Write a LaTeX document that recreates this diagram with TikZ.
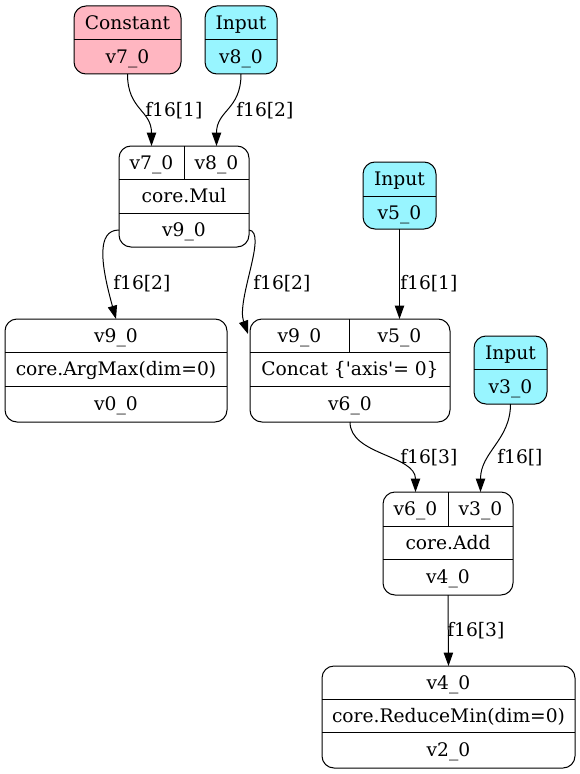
\documentclass[tikz,border=0pt]{standalone}
\usepackage{fontspec}
\setmainfont{DejaVu Serif}
\usetikzlibrary{arrows.meta}
\definecolor{constfill}{HTML}{FFB6C1}
\definecolor{inputfill}{HTML}{98F5FF}
\begin{document}
\begin{tikzpicture}[x=0.75pt,y=-0.75pt,
  box/.style={draw, line width=0.75pt, rounded corners=9pt, inner sep=0pt, outer sep=0pt},
  bw/.style={minimum width=#1*0.75pt},
  bh/.style={minimum height=#1*0.75pt},
  rule/.style={line width=0.75pt},
  txt/.style={inner sep=0pt, text height=10.2pt, text depth=0pt, font=\fontsize{14pt}{16pt}\selectfont},
  lbl/.style={txt, anchor=west},
  edge/.style={line width=0.75pt, -{Triangle[length=10pt,width=7pt]}}]
\useasboundingbox (0,0) rectangle (580,774);
\fill[white] (0,0) rectangle (580,774);

% Constant v7_0
\node[box, fill=constfill, bw=107, bh=68] (const) at (127.5,40) {};
\draw[rule] (const.west |- 0,40) -- (const.east |- 0,40);
\node[txt] (constname) at (127.5,23) {Constant};
\node[txt] (constout) at (127.5,57) {v7\_0};

% Input v8_0
\node[box, fill=inputfill, bw=72, bh=68] (inA) at (241,40) {};
\draw[rule] (inA.west |- 0,40) -- (inA.east |- 0,40);
\node[txt] (inAname) at (241,23) {Input};
\node[txt] (inAout) at (241,57) {v8\_0};

% core.Mul
\node[box, bw=130, bh=101] (mul) at (184,196.5) {};
\draw[rule] (mul.west |- 0,179) -- (mul.east |- 0,179);
\draw[rule] (mul.west |- 0,213) -- (mul.east |- 0,213);
\draw[rule] (mul.north) -- (184,179);
\node[txt] (mulin1) at (151.5,162.5) {v7\_0};
\node[txt] (mulin2) at (216.5,162.5) {v8\_0};
\node[txt] (mulop) at (184,196) {core.Mul};
\node[txt] (mulout) at (184,230) {v9\_0};

% Input v5_0
\node[box, fill=inputfill, bw=73, bh=67] (inB) at (399.5,195.5) {};
\draw[rule] (inB.west |- 0,196) -- (inB.east |- 0,196);
\node[txt] (inBname) at (399.5,179) {Input};
\node[txt] (inBout) at (399.5,212.5) {v5\_0};

% core.ArgMax
\node[box, bw=222, bh=103] (arg) at (116,370.5) {};
\draw[rule] (arg.west |- 0,352) -- (arg.east |- 0,352);
\draw[rule] (arg.west |- 0,386) -- (arg.east |- 0,386);
\node[txt] (argin) at (116,335.5) {v9\_0};
\node[txt] (argop) at (116,369) {core.ArgMax(dim=0)};
\node[txt] (argout) at (116,404) {v0\_0};

% Concat
\node[box, bw=200, bh=103] (cat) at (350,370.5) {};
\draw[rule] (cat.west |- 0,352) -- (cat.east |- 0,352);
\draw[rule] (cat.west |- 0,386) -- (cat.east |- 0,386);
\draw[rule] (349,319) -- (349,352);
\node[txt] (catin1) at (299.5,335.5) {v9\_0};
\node[txt] (catin2) at (399.5,335.5) {v5\_0};
\node[txt] (catop) at (350,369) {Concat \{\textquotesingle axis\textquotesingle = 0\}};
\node[txt] (catout) at (350,404) {v6\_0};

% Input v3_0
\node[box, fill=inputfill, bw=73, bh=68] (inC) at (510.5,370) {};
\draw[rule] (inC.west |- 0,369) -- (inC.east |- 0,369);
\node[txt] (inCname) at (510.5,352.5) {Input};
\node[txt] (inCout) at (510.5,386.5) {v3\_0};

% core.Add
\node[box, bw=130, bh=103] (add) at (448,543.5) {};
\draw[rule] (add.west |- 0,526) -- (add.east |- 0,526);
\draw[rule] (add.west |- 0,559) -- (add.east |- 0,559);
\draw[rule] (add.north) -- (448,526);
\node[txt] (addin1) at (415.5,509) {v6\_0};
\node[txt] (addin2) at (480.5,509) {v3\_0};
\node[txt] (addop) at (448,542.5) {core.Add};
\node[txt] (addout) at (448,577) {v4\_0};

% core.ReduceMin
\node[box, bw=253, bh=102] (red) at (448.5,717) {};
\draw[rule] (red.west |- 0,699) -- (red.east |- 0,699);
\draw[rule] (red.west |- 0,732) -- (red.east |- 0,732);
\node[txt] (redin) at (448.5,682.5) {v4\_0};
\node[txt] (redop) at (448.5,715.5) {core.ReduceMin(dim=0)};
\node[txt] (redout) at (448.5,750) {v2\_0};

% edges
\draw[edge] (const.south) .. controls +(0,36) and +(0,-36) .. (mulin1 |- mul.north);
\draw[edge] (inA.south) .. controls +(0,36) and +(0,-36) .. (mulin2 |- mul.north);
\draw[edge] (mul.west |- mulout) .. controls +(-23,0) and +(-15,-54) .. (argin |- arg.north);
\draw[edge] (mul.east |- mulout) .. controls +(19,2) and +(-12,-34) .. ([shift={(-2,15)}]cat.north west);
\draw[edge] (inB.south) -- (catin2 |- cat.north);
\draw[edge] (catout |- cat.south) .. controls +(0,33) and +(0,-37) .. (addin1 |- add.north);
\draw[edge] (inC.south) .. controls +(0,36) and +(0,-40) .. (addin2 |- add.north);
\draw[edge] (add.south) -- (red.north);

% edge labels
\node[lbl] (l1) at (145,110) {f16[1]};
\node[lbl] (l2) at (236,110) {f16[2]};
\node[lbl] (l3) at (113,283) {f16[2]};
\node[lbl] (l4) at (253,283) {f16[2]};
\node[lbl] (l5) at (400,283) {f16[1]};
\node[lbl] (l6) at (400,457) {f16[3]};
\node[lbl] (l7) at (497,457) {f16[]};
\node[lbl] (l8) at (447,630) {f16[3]};
\end{tikzpicture}
\end{document}
